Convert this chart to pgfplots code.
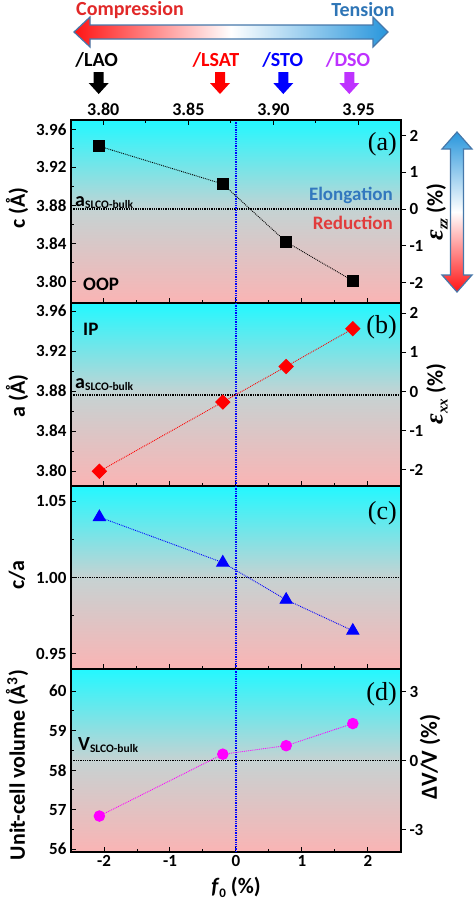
\documentclass[border=0pt]{standalone}
\usepackage{fontspec}
\setmainfont{Carlito}
\newfontfamily\serif{Liberation Serif}
\usepackage{pgfplots}
\pgfplotsset{compat=1.18}
\newcommand{\bsz}[1]{\bfseries\fontsize{#1}{#1}\selectfont}

\definecolor{bgtop}{RGB}{35,248,255}
\definecolor{bgmid}{RGB}{198,210,210}
\definecolor{bgbot}{RGB}{250,180,180}
\definecolor{arrblue}{RGB}{40,150,220}
\definecolor{arrred}{RGB}{255,20,20}
\definecolor{outl}{RGB}{70,120,170}
\definecolor{tens}{RGB}{46,117,182}
\definecolor{comp}{RGB}{225,40,40}
\definecolor{elong}{RGB}{50,120,190}
\definecolor{reduc}{RGB}{225,60,60}
\definecolor{dsoc}{RGB}{190,50,255}
\definecolor{magc}{RGB}{255,0,255}

\tikzset{zl/.style={blue, densely dotted, line width=1.3pt}}
\pgfplotsset{
 base/.style={scale only axis, width=330pt, height=183pt, xmin=-2.5, xmax=2.5,
   /pgf/number format/assume math mode=true,
   tick label style={font=\bsz{16}},
   axis line style={line width=1.3pt},
   every tick/.style={black, line width=1pt},
   major tick length=5pt, minor tick length=3pt},
 main/.style={base, xtick={-2,-1,0,1,2}, minor x tick num=1, xtick pos=bottom, ytick pos=left,
   tick align=inside, minor y tick num=1,
   axis background/.style={top color=bgtop, bottom color=bgbot, middle color=bgmid},
   yticklabel style={xshift=-1pt, font=\bsz{17}}, xticklabel style={font=\bsz{17}}},
 rightax/.style={base, axis x line=none, axis y line*=right, tick align=outside, ytick pos=right,
   yticklabel style={font=\bsz{17}}},
 fix2/.style={yticklabel style={/pgf/number format/fixed, /pgf/number format/fixed zerofill, /pgf/number format/precision=2}},
 bl/.style={black, densely dotted, line width=1.3pt, forget plot},
}

\begin{document}
\begin{tikzpicture}
\useasboundingbox (0pt,0pt) rectangle (474pt,-906pt);

% ---------- panel (a)
\begin{axis}[main, fix2, at={(71pt,-120pt)}, anchor=north west,
  ymin=3.777, ymax=3.97, ytick={3.80,3.84,3.88,3.92,3.96}, xticklabels={}]
\addplot[bl] coordinates {(-2.5,3.876) (2.5,3.876)};
\draw[zl] (axis cs:0,3.777) -- (axis cs:0,3.97);
\addplot[black, densely dotted, line width=0.9pt, mark=square*, mark size=5.5pt, mark options={solid}]
  coordinates {(-2.07,3.9423) (-0.2,3.9025) (0.76,3.8414) (1.77,3.8004)};
\end{axis}
\begin{axis}[rightax, at={(71pt,-120pt)}, anchor=north west,
  ymin=-2.554, ymax=2.425, ytick={-2,-1,0,1,2}]
\end{axis}
\begin{axis}[base, at={(71pt,-120pt)}, anchor=north west, axis y line=none, axis x line*=top,
  tick align=inside, ymin=0, ymax=1,
  xtick={-2.0113,-0.7220,0.5673,1.8566}, xticklabels={3.80,3.85,3.90,3.95},
  minor xtick={-1.3667,-0.0774,1.2120}, xticklabel style={font=\bsz{18}, yshift=1pt}]
\end{axis}

% ---------- panel (b)
\begin{axis}[main, fix2, at={(71pt,-303pt)}, anchor=north west,
  ymin=3.785, ymax=3.968, ytick={3.80,3.84,3.88,3.92,3.96}, xticklabels={}]
\addplot[bl] coordinates {(-2.5,3.876) (2.5,3.876)};
\draw[zl] (axis cs:0,3.785) -- (axis cs:0,3.968);
\addplot[red, densely dotted, line width=0.9pt, mark=square*, mark size=5pt, mark options={solid, rotate=45}]
  coordinates {(-2.07,3.7997) (-0.2,3.869) (0.76,3.9045) (1.77,3.9423)};
\end{axis}
\begin{axis}[rightax, at={(71pt,-303pt)}, anchor=north west,
  ymin=-2.41, ymax=2.26, ytick={-2,-1,0,1,2}]
\end{axis}

% ---------- panel (c)
\begin{axis}[main, fix2, at={(71pt,-486pt)}, anchor=north west,
  ymin=0.94, ymax=1.06, ytick={0.95,1.00,1.05}, xticklabels={}]
\addplot[bl] coordinates {(-2.5,1.0) (2.5,1.0)};
\draw[zl] (axis cs:0,0.94) -- (axis cs:0,1.06);
\addplot[blue, densely dotted, line width=0.9pt, mark=triangle*, mark size=7pt, mark options={solid}]
  coordinates {(-2.07,1.0396) (-0.2,1.0098) (0.76,0.9854) (1.77,0.9651)};
\end{axis}

% ---------- panel (d)
\begin{axis}[main, at={(71pt,-669pt)}, anchor=north west,
  ymin=55.93, ymax=60.56, ytick={56,57,58,59,60}]
\addplot[bl] coordinates {(-2.5,58.24) (2.5,58.24)};
\draw[zl] (axis cs:0,55.93) -- (axis cs:0,60.56);
\addplot[magc, densely dotted, line width=0.9pt, mark=*, mark size=5.3pt, mark options={solid}]
  coordinates {(-2.07,56.84) (-0.2,58.405) (0.76,58.62) (1.77,59.18)};
\end{axis}
\begin{axis}[rightax, at={(71pt,-669pt)}, anchor=north west,
  ymin=-3.97, ymax=3.98, ytick={-3,0,3}]
\end{axis}

% ---------- annotations
\begin{scope}[x=1pt,y=-1pt]
% top double arrow
\draw[outl, line width=1.2pt, left color=arrred, right color=arrblue, middle color=white]
  (74,32) -- (90,17) -- (90,25) -- (373,25) -- (373,17) -- (388,32) -- (373,47) -- (373,39) -- (90,39) -- (90,47) -- cycle;
\node[comp, font=\bsz{20}] at (130,10) {Compression};
\node[tens, font=\bsz{20}] at (363,10) {Tension};
% substrate labels & arrows
\node[font=\bsz{20}] at (96.7,60) {/LAO};
\node[red, font=\bsz{20}] at (216,60) {/LSAT};
\node[blue, font=\bsz{20}] at (282.7,60) {/STO};
\node[dsoc, font=\bsz{20}] at (348,60) {/DSO};
\foreach \xx/\cc in {98.7/black, 220/red, 283.3/blue, 349.3/dsoc}{
  \fill[\cc] (\xx-5,72) -- (\xx+5,72) -- (\xx+5,83) -- (\xx+10,83) -- (\xx,94) -- (\xx-10,83) -- (\xx-5,83) -- cycle;
}
% right vertical arrow
\draw[outl, line width=1.2pt, top color=arrblue, bottom color=arrred, middle color=white]
  (457,132) -- (472,149) -- (463.5,149) -- (463.5,275) -- (472,275) -- (457,292) -- (442,275) -- (450.5,275) -- (450.5,149) -- (442,149) -- cycle;
% axis labels
\node[rotate=90, font=\bsz{22}] at (17,208) {c (Å)};
\node[rotate=90, font=\bsz{22}] at (17,396) {a (Å)};
\node[rotate=90, font=\bsz{22}] at (17,575) {c/a};
\node[rotate=90, font=\bsz{22}] at (17,765) {Unit-cell volume (Å\textsuperscript{3})};
\node[font=\bsz{22}] at (236,887) {\textit{f}\raisebox{-4pt}{\bsz{13}0} (\%)};
\node[rotate=90, font=\bsz{22}] at (437,212) {{\serif\itshape\fontsize{26}{26}\selectfont ε}\raisebox{-5pt}{\serif\itshape\bfseries\fontsize{15}{15}\selectfont zz} (\%)};
\node[rotate=90, font=\bsz{22}] at (437,394) {{\serif\itshape\fontsize{26}{26}\selectfont ε}\raisebox{-5pt}{\serif\itshape\bfseries\fontsize{15}{15}\selectfont xx} (\%)};
\node[rotate=90, font=\bsz{23}] at (430,757) {ΔV/V (\%)};
% in-panel texts
\node[anchor=base west, inner sep=0, font=\bsz{20}] at (75,206) {a\raisebox{-2pt}{\bsz{11.5}SLCO-bulk}};
\node[anchor=base east, inner sep=0, elong, font=\bsz{19}] at (393,200) {Elongation};
\node[anchor=base east, inner sep=0, reduc, font=\bsz{19}] at (393,229) {Reduction};
\node[anchor=base west, inner sep=0, font=\bsz{19}] at (83,290) {OOP};
\node[anchor=base east, inner sep=0, font=\serif\fontsize{26}{26}\selectfont] at (397,150) {(a)};
\node[anchor=base west, inner sep=0, font=\bsz{19}] at (83,335) {IP};
\node[anchor=base east, inner sep=0, font=\serif\fontsize{26}{26}\selectfont] at (397,333) {(b)};
\node[anchor=base west, inner sep=0, font=\bsz{20}] at (75,388) {a\raisebox{-2pt}{\bsz{11.5}SLCO-bulk}};
\node[anchor=base east, inner sep=0, font=\serif\fontsize{26}{26}\selectfont] at (397,519) {(c)};
\node[anchor=base east, inner sep=0, font=\serif\fontsize{26}{26}\selectfont] at (397,700) {(d)};
\node[anchor=base west, inner sep=0, font=\bsz{20}] at (78,750) {V\raisebox{-2pt}{\bsz{11.5}SLCO-bulk}};
\end{scope}
\end{tikzpicture}
\end{document}
